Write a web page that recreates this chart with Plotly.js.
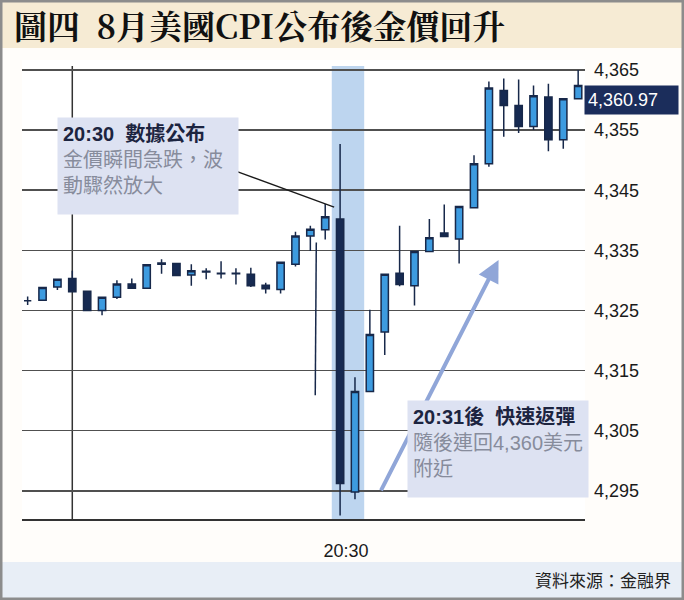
<!DOCTYPE html>
<html>
<head>
<meta charset="utf-8">
<script src="https://cdn.plot.ly/plotly-3.0.1.min.js"></script>
<style>
  html, body { margin: 0; padding: 0; background: #ffffff; }
  #chart { width: 684px; height: 600px; }
</style>
</head>
<body>
<div id="chart"></div>
<script>
// ---- data ----
const openP  = [4326.6, 4326.7, 4328.9, 4330.3, 4328.2, 4325.0, 4327.2, 4329.4, 4328.7, 4332.7,
                4332.8, 4330.9, 4331.4, 4331.1, 4331.1, 4331.0, 4329.2, 4328.5, 4332.7, 4337.4,
                4338.4, 4340.2, 4294.8, 4311.5, 4321.4, 4331.2, 4329.1, 4334.8, 4337.9, 4336.9,
                4342.1, 4349.4, 4361.6, 4359.1, 4355.6, 4360.5, 4353.4, 4360.2];
const highP  = [4327.3, 4328.8, 4330.2, 4331.6, 4328.3, 4327.3, 4330.0, 4330.3, 4332.6, 4333.5,
                4332.9, 4332.7, 4332.0, 4333.2, 4332.0, 4332.1, 4329.6, 4333.1, 4338.1, 4339.1,
                4342.7, 4352.7, 4313.9, 4325.1, 4331.1, 4339.1, 4334.9, 4340.2, 4342.6, 4342.4,
                4350.8, 4363.1, 4363.6, 4363.4, 4362.4, 4362.7, 4360.3, 4365.0];
const lowP   = [4325.9, 4326.7, 4328.4, 4328.0, 4325.0, 4324.2, 4326.9, 4328.7, 4328.7, 4331.1,
                4330.7, 4329.1, 4330.2, 4330.3, 4329.3, 4328.9, 4327.8, 4327.8, 4332.3, 4334.9,
                4336.8, 4290.9, 4293.6, 4311.4, 4317.6, 4329.0, 4325.8, 4334.7, 4337.2, 4332.8,
                4342.0, 4348.9, 4353.9, 4354.5, 4355.0, 4351.5, 4351.9, 4360.1];
const closeP = [4326.6, 4328.8, 4330.2, 4328.1, 4325.0, 4327.2, 4329.4, 4328.7, 4332.6, 4332.9,
                4330.8, 4331.6, 4331.5, 4331.2, 4331.2, 4329.1, 4328.6, 4333.0, 4337.4, 4338.5,
                4340.6, 4296.2, 4311.5, 4321.0, 4331.0, 4329.3, 4334.8, 4337.1, 4337.3, 4342.3,
                4349.4, 4362.0, 4359.1, 4355.6, 4360.7, 4353.4, 4360.2, 4362.4];
const barIndex = openP.map((_, i) => i);

// thin tick-price drop line just before the 20:30 bar
const dropX = [19.4, 19.33];
const dropY = [4336.3, 4310.9];

const yTicks = [4295, 4305, 4315, 4325, 4335, 4345, 4355, 4365];
const xTickPos = [21.4];
const xTickText = ['20:30'];
const lastPrice = 4360.97;

const titleText = '圖四\u00a0\u00a08月美國CPI公布後金價回升';
const note1Title = '20:30\u00a0\u00a0數據公布';
const note1Lines = ['金價瞬間急跌，波', '動驟然放大'];
const note2Title = '20:31後\u00a0\u00a0快速返彈';
const note2Lines = ['隨後連回4,360美元', '附近'];
const sourceText = '資料來源：金融界';

// ---- geometry helpers (pixel -> paper) ----
const W = 684, H = 600, ML = 22, MR = 99, MT = 60, MB = 81;
const PW = W - ML - MR, PH = H - MT - MB;
const px = x => (x - ML) / PW;
const py = y => (H - MB - y) / PH;

const CJK = '"Liberation Sans", "Noto Sans CJK TC", sans-serif';
const DARK = '#17284a';

const traces = [
  {
    type: 'scatter', mode: 'lines', x: dropX, y: dropY,
    line: { color: DARK, width: 1.5 }, hoverinfo: 'skip', showlegend: false
  },
  {
    type: 'candlestick', x: barIndex,
    open: openP, high: highP, low: lowP, close: closeP,
    increasing: { fillcolor: '#3d9be0', line: { color: DARK, width: 1.5 } },
    decreasing: { fillcolor: '#162a52', line: { color: DARK, width: 1.5 } },
    whiskerwidth: 0, showlegend: false, hoverinfo: 'skip'
  }
];

function noteText(t, lines) {
  return '<b>' + t + '</b><br>' + lines.map(l => '<span style="color:#878c9c">' + l + '</span>').join('<br>');
}

const layout = {
  width: W, height: H,
  margin: { l: ML, r: MR, t: MT, b: MB, pad: 0 },
  paper_bgcolor: '#fffdfa',
  plot_bgcolor: '#ffffff',
  showlegend: false,
  title: {
    text: '<b>' + titleText + '</b>',
    xref: 'container', yref: 'container',
    x: 14 / W, xanchor: 'left', y: 1 - 27 / H, yanchor: 'middle',
    font: { family: '"Noto Serif CJK TC", "Liberation Serif", "Noto Sans CJK TC", serif', size: 33, color: '#111111' }
  },
  xaxis: {
    range: [-0.38, 37.46],
    showgrid: false, zeroline: false,
    showline: true, linecolor: '#333333', linewidth: 1.5,
    tickmode: 'array', tickvals: xTickPos, ticktext: xTickText,
    ticks: '', ticklabelstandoff: 15,
    tickfont: { family: '"Liberation Sans", Arial, sans-serif', size: 18, color: '#1a1a1a' },
    rangeslider: { visible: false },
    fixedrange: true
  },
  yaxis: {
    side: 'right',
    range: [4290.3, 4366.66],
    tickmode: 'array', tickvals: yTicks,
    tickformat: ',d',
    showgrid: true, gridcolor: '#505050', gridwidth: 1.5,
    zeroline: false, showline: false, ticks: '',
    ticklabelstandoff: 8,
    tickfont: { family: '"Liberation Sans", Arial, sans-serif', size: 18, color: '#1a1a1a' },
    fixedrange: true
  },
  shapes: [
    // title band
    { type: 'rect', xref: 'paper', yref: 'paper', x0: px(0), x1: px(W), y0: py(48), y1: py(0),
      fillcolor: '#f6ebd4', line: { width: 0 }, layer: 'below' },
    // footer band
    { type: 'rect', xref: 'paper', yref: 'paper', x0: px(0), x1: px(W), y0: py(598), y1: py(562),
      fillcolor: '#e8eef6', line: { width: 0 }, layer: 'below' },
    // highlight band for 20:30
    { type: 'rect', xref: 'x', yref: 'paper', x0: 20.44, x1: 22.62, y0: 0, y1: py(66),
      fillcolor: '#bdd5ef', line: { width: 0 }, layer: 'between' },
    // vertical marker line
    { type: 'line', xref: 'x', yref: 'paper', x0: 3, x1: 3, y0: 0, y1: py(66),
      line: { color: '#333333', width: 1.5 }, layer: 'between' },
    // connector from note 1
    { type: 'line', xref: 'x', yref: 'y', x0: 14.08, y0: 4348.1, x1: 20.6, y1: 4342.2,
      line: { color: '#1a1a1a', width: 1.3 }, layer: 'above' },
    // frame
    { type: 'rect', xref: 'paper', yref: 'paper', x0: px(1), x1: px(W - 1), y0: py(H - 1), y1: py(1),
      line: { color: '#8c8c8c', width: 3 }, fillcolor: 'rgba(0,0,0,0)', layer: 'above' }
  ],
  annotations: [
    // rebound arrow (drawn first so the note box covers it)
    { xref: 'x', yref: 'y', x: 31.65, y: 4333.4, axref: 'x', ayref: 'y', ax: 23.7, ay: 4294.8,
      text: '', showarrow: true, arrowhead: 2, arrowsize: 1.1, arrowwidth: 4, arrowcolor: '#90a6d8' },
    // note 1
    { xref: 'paper', yref: 'paper', x: px(57), y: py(117), xanchor: 'left', yanchor: 'top',
      text: noteText(note1Title, note1Lines), showarrow: false, align: 'left', valign: 'top',
      width: 170, height: 86, borderpad: 5, bgcolor: '#dde2f2',
      font: { family: CJK, size: 20, color: '#1c2440' } },
    // note 2
    { xref: 'paper', yref: 'paper', x: px(407), y: py(400), xanchor: 'left', yanchor: 'top',
      text: noteText(note2Title, note2Lines), showarrow: false, align: 'left', valign: 'top',
      width: 170, height: 86, borderpad: 5, bgcolor: '#dde2f2',
      font: { family: CJK, size: 20, color: '#1c2440' } },
    // last price tag
    { xref: 'paper', yref: 'y', x: px(584), y: lastPrice, yshift: -6, xanchor: 'left', yanchor: 'middle',
      text: lastPrice.toLocaleString('en-US', { minimumFractionDigits: 2 }), showarrow: false,
      align: 'left', width: 87, height: 22, borderpad: 3, bgcolor: '#1b2d5b',
      font: { family: '"Liberation Sans", Arial, sans-serif', size: 18, color: '#ffffff' } },
    // source
    { xref: 'paper', yref: 'paper', x: px(673), y: py(579), xanchor: 'right', yanchor: 'middle',
      text: sourceText, showarrow: false,
      font: { family: '"Noto Sans CJK TC", sans-serif', size: 17, color: '#222222' } }
  ]
};

Plotly.newPlot('chart', traces, layout, { displayModeBar: false, staticPlot: true });
</script>
</body>
</html>
